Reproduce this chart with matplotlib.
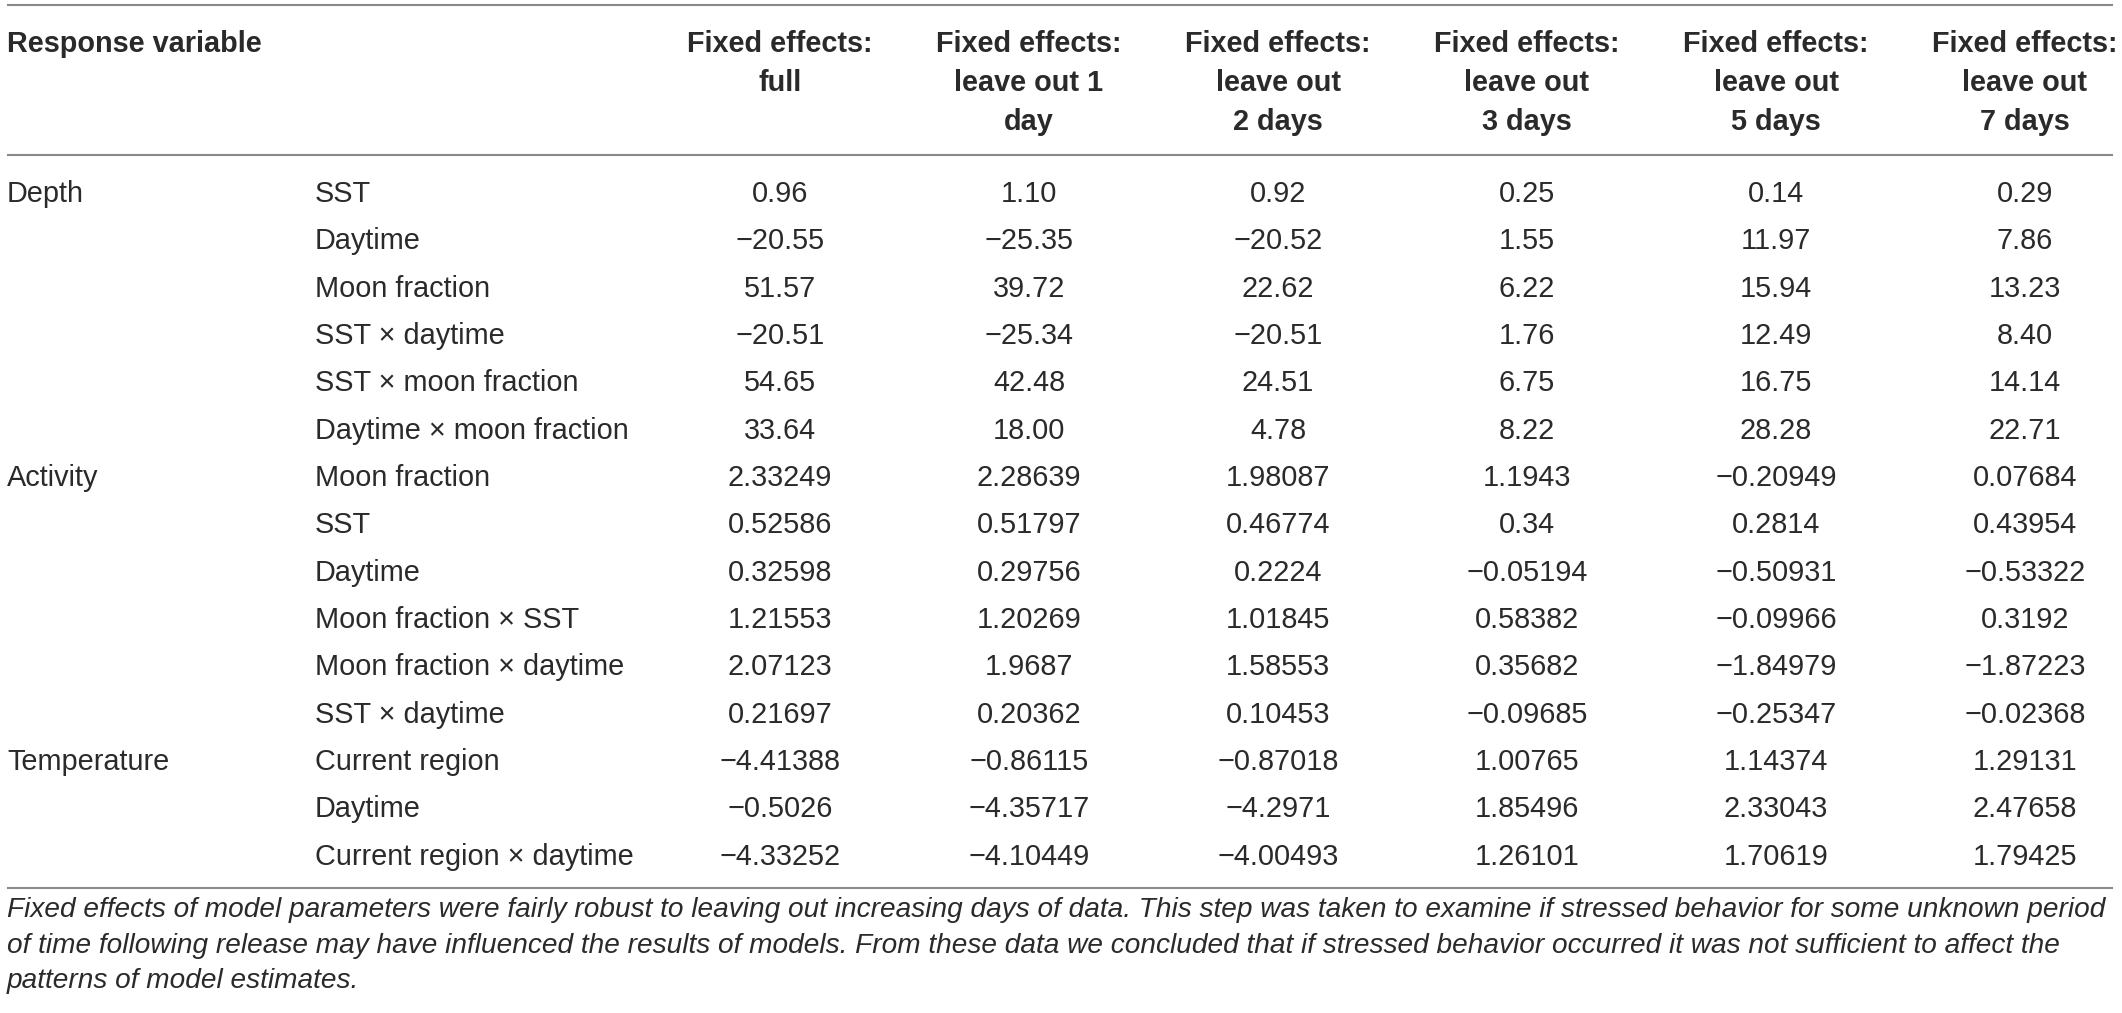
import matplotlib
matplotlib.use("Agg")
import matplotlib.pyplot as plt

plt.rcParams["font.family"] = ["Liberation Sans", "DejaVu Sans"]

W, H, DPI = 2122, 1013, 100
INK = "#2a2a2a"
RULE = "#8a8a8a"

# table content
responses = ["Depth", "Activity", "Temperature"]
group_sizes = [6, 6, 3]
terms = [
    "SST", "Daytime", "Moon fraction", "SST \u00d7 daytime",
    "SST \u00d7 moon fraction", "Daytime \u00d7 moon fraction",
    "Moon fraction", "SST", "Daytime", "Moon fraction \u00d7 SST",
    "Moon fraction \u00d7 daytime", "SST \u00d7 daytime",
    "Current region", "Daytime", "Current region \u00d7 daytime",
]
headers = [
    "Fixed effects:\nfull",
    "Fixed effects:\nleave out 1\nday",
    "Fixed effects:\nleave out\n2 days",
    "Fixed effects:\nleave out\n3 days",
    "Fixed effects:\nleave out\n5 days",
    "Fixed effects:\nleave out\n7 days",
]
full = ["0.96", "\u221220.55", "51.57", "\u221220.51", "54.65", "33.64",
        "2.33249", "0.52586", "0.32598", "1.21553", "2.07123", "0.21697",
        "\u22124.41388", "\u22120.5026", "\u22124.33252"]
out_1 = ["1.10", "\u221225.35", "39.72", "\u221225.34", "42.48", "18.00",
         "2.28639", "0.51797", "0.29756", "1.20269", "1.9687", "0.20362",
         "\u22120.86115", "\u22124.35717", "\u22124.10449"]
out_2 = ["0.92", "\u221220.52", "22.62", "\u221220.51", "24.51", "4.78",
         "1.98087", "0.46774", "0.2224", "1.01845", "1.58553", "0.10453",
         "\u22120.87018", "\u22124.2971", "\u22124.00493"]
out_3 = ["0.25", "1.55", "6.22", "1.76", "6.75", "8.22",
         "1.1943", "0.34", "\u22120.05194", "0.58382", "0.35682", "\u22120.09685",
         "1.00765", "1.85496", "1.26101"]
out_5 = ["0.14", "11.97", "15.94", "12.49", "16.75", "28.28",
         "\u22120.20949", "0.2814", "\u22120.50931", "\u22120.09966", "\u22121.84979", "\u22120.25347",
         "1.14374", "2.33043", "1.70619"]
out_7 = ["0.29", "7.86", "13.23", "8.40", "14.14", "22.71",
         "0.07684", "0.43954", "\u22120.53322", "0.3192", "\u22121.87223", "\u22120.02368",
         "1.29131", "2.47658", "1.79425"]
columns = [full, out_1, out_2, out_3, out_5, out_7]
caption = [
    "Fixed effects of model parameters were fairly robust to leaving out increasing days of data. "
    "This step was taken to examine if stressed behavior for some unknown period",
    "of time following release may have influenced the results of models. From these data we "
    "concluded that if stressed behavior occurred it was not sufficient to affect the",
    "patterns of model estimates.",
]

# layout in pixels
x_left, x_term = 7, 315
col_x0, col_dx = 780, 249
head_base, head_step = 52, 39
row_base, row_step = 202, 47.33
cap_base, cap_step = 917, 35.5
fs = 20.8

fig = plt.figure(figsize=(W / DPI, H / DPI), dpi=DPI)
ax = fig.add_axes([0, 0, 1, 1])
ax.set_xlim(0, W)
ax.set_ylim(H, 0)
ax.axis("off")

for y in (5, 155, 888):
    ax.hlines(y, 7, 2113, color=RULE, lw=1.5)

ax.text(x_left, head_base, "Response variable", fontsize=fs, fontweight="bold",
        color=INK, va="baseline", ha="left")
for k, head in enumerate(headers):
    for j, line in enumerate(head.split("\n")):
        ax.text(col_x0 + k * col_dx, head_base + j * head_step, line, fontsize=fs,
                fontweight="bold", color=INK, va="baseline", ha="center")

row = 0
for name, n in zip(responses, group_sizes):
    ax.text(x_left, row_base + row * row_step, name, fontsize=fs, color=INK,
            va="baseline", ha="left")
    row += n

for i, term in enumerate(terms):
    y = row_base + i * row_step
    ax.text(x_term, y, term, fontsize=fs, color=INK, va="baseline", ha="left")
    for k, col in enumerate(columns):
        ax.text(col_x0 + k * col_dx, y, col[i], fontsize=fs, color=INK,
                va="baseline", ha="center")

for j, line in enumerate(caption):
    ax.text(x_left, cap_base + j * cap_step, line, fontsize=20.2, style="italic",
            color=INK, va="baseline", ha="left")

fig.savefig("out.png", dpi=DPI)
